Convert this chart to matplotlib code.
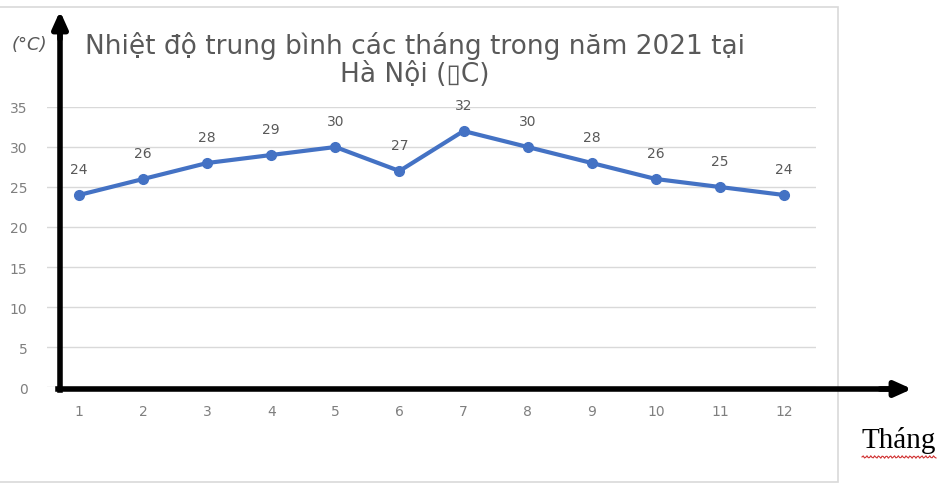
import matplotlib
matplotlib.use("Agg")
import matplotlib.pyplot as plt
from matplotlib.patches import Rectangle
import numpy as np

months = [1, 2, 3, 4, 5, 6, 7, 8, 9, 10, 11, 12]
temps = [24, 26, 28, 29, 30, 27, 32, 30, 28, 26, 25, 24]
yticks = [0, 5, 10, 15, 20, 25, 30, 35]
title_text = "Nhiệt độ trung bình các tháng trong năm 2021 tại\nHà Nội (▯C)"

W, H = 939, 485
fig = plt.figure(figsize=(W / 100, H / 100), dpi=100)
fig.patch.set_facecolor("white")

def fx(px):
    return px / W

def fy(py):
    return 1 - py / H

ax = fig.add_axes([fx(47), fy(388), fx(816) - fx(47), fy(108) - fy(388)])
ax.set_xlim(0.5, 12.5)
ax.set_ylim(0, 35)
for s in ax.spines.values():
    s.set_visible(False)
ax.set_yticks(yticks)
ax.set_xticks(months)
ax.tick_params(length=0, colors="#7f7f7f", labelsize=10)
ax.tick_params(axis="y", pad=14)
ax.tick_params(axis="x", pad=12)
ax.grid(axis="y", color="#d9d9d9", linewidth=1)
ax.set_axisbelow(True)

ax.plot(months, temps, color="#4472C4", linewidth=3, marker="o",
        markersize=7, zorder=3)
for m, t in zip(months, temps):
    ax.annotate(str(t), (m, t), xytext=(0, 14), textcoords="offset points",
                ha="center", va="bottom", fontsize=10, color="#595959")

# chart frame
fig.add_artist(Rectangle((fx(-2), fy(483)), fx(840), fy(8) - fy(483),
                         transform=fig.transFigure, fill=False,
                         edgecolor="#d9d9d9", linewidth=1.2))

fig.text(fx(415), fy(60), title_text, ha="center", va="center",
         fontsize=19, color="#595959", linespacing=1.1)

# axis arrows
fig.add_artist(plt.Line2D([fx(60), fx(60)], [fy(391), fy(30)],
                          color="black", linewidth=4, transform=fig.transFigure,
                          solid_capstyle="projecting"))
ax.annotate("", xy=(60, H - 12), xytext=(60, H - 40), xycoords="figure pixels",
            textcoords="figure pixels",
            arrowprops=dict(arrowstyle="-|>,head_length=1.0,head_width=0.45",
                            color="black", lw=4, shrinkA=0, shrinkB=0))
fig.add_artist(plt.Line2D([fx(58), fx(890)], [fy(390), fy(390)],
                          color="black", linewidth=4, transform=fig.transFigure))
ax.annotate("", xy=(912, H - 390), xytext=(880, H - 390), xycoords="figure pixels",
            textcoords="figure pixels",
            arrowprops=dict(arrowstyle="-|>,head_length=1.0,head_width=0.45",
                            color="black", lw=4, shrinkA=0, shrinkB=0))

fig.text(fx(12), fy(45), "(°C)", ha="left", va="center", fontsize=13,
         color="#595959", style="italic")
fig.text(fx(861), fy(441), "Tháng", ha="left", va="center", fontsize=21,
         color="black", family="Liberation Serif")
# spell-check squiggle under the word
xs = np.linspace(862, 936, 60)
ys = 458 + 1.2 * np.sin(xs * 1.6)
fig.add_artist(plt.Line2D(fx(xs), fy(ys), color="#d03030", linewidth=0.8,
                          transform=fig.transFigure))

fig.savefig("out.png", dpi=100)
